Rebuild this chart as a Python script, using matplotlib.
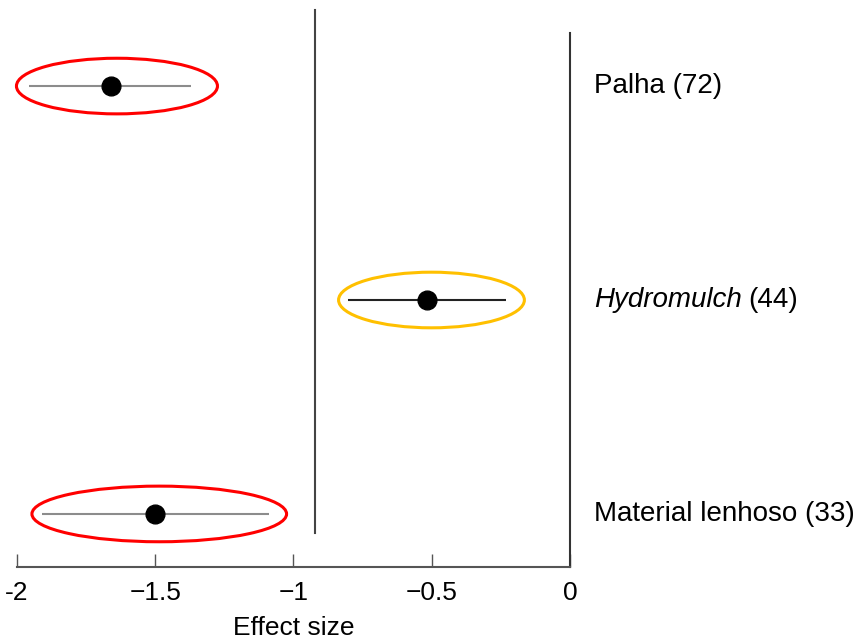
import matplotlib
matplotlib.use("Agg")
import matplotlib.pyplot as plt
from matplotlib.patches import Ellipse

plt.rcParams['font.family'] = ['Liberation Sans', 'DejaVu Sans']

# Data (top to bottom in the chart)
categories = ["Palha", "Hydromulch", "Material lenhoso"]
n_studies = [72, 44, 33]
effect = [-1.660, -0.517, -1.501]
ci_low = [-1.957, -0.803, -1.910]
ci_high = [-1.370, -0.231, -1.089]
overall_effect = -0.922
tick_values = [-2, -1.5, -1, -0.5, 0]
tick_labels = ["-2", "\u22121.5", "\u22121", "\u22120.5", "0"]

# Styles
ellipse_colors = ["#FF0000", "#FFC000", "#FF0000"]
ci_colors = ["#8c8c8c", "#222222", "#8c8c8c"]
ellipse_shift = [0.025, 0.016, 0.014]
ellipse_pad = [0.14, 0.10, 0.10]
ellipse_height = 0.26
italic = [False, True, False]

fig = plt.figure(figsize=(8.62, 6.43), dpi=100)
W, H = 862, 643
ax = fig.add_axes([17 / W, 1 - 567 / H, (570 - 17) / W, (567 - 33) / H])

n = len(categories)
ypos = [n - 1 - i for i in range(n)]

for i in range(n):
    y = ypos[i]
    ax.plot([ci_low[i], ci_high[i]], [y, y], color=ci_colors[i], lw=1.5, zorder=2,
            solid_capstyle='butt')
    ax.plot(effect[i], y, 'o', color='black', ms=13.5, zorder=3)
    cx = (ci_low[i] + ci_high[i]) / 2 + ellipse_shift[i]
    w = (ci_high[i] - ci_low[i]) + ellipse_pad[i]
    ax.add_patch(Ellipse((cx, y), w, ellipse_height, fill=False,
                         edgecolor=ellipse_colors[i], lw=2.2, zorder=4, clip_on=False))
    if italic[i]:
        ax.text(1.043, y, categories[i], transform=ax.get_yaxis_transform(),
                fontsize=20, style='italic', va='center', ha='left')
    else:
        ax.text(1.043, y, f"{categories[i]} ({n_studies[i]})",
                transform=ax.get_yaxis_transform(), fontsize=20, va='center', ha='left')

# italic label part for Hydromulch: append count in normal style
hi = italic.index(True)
fig.canvas.draw()
for txt in ax.texts:
    if txt.get_text() == categories[hi]:
        bb = txt.get_window_extent()
        inv = ax.transAxes.inverted()
        x_end = inv.transform((bb.x1, 0))[0]
        ax.text(x_end + 0.012, ypos[hi], f"({n_studies[hi]})",
                transform=ax.get_yaxis_transform(), fontsize=20, va='center', ha='left')
        break

# Overall effect vertical line
ax.plot([overall_effect, overall_effect], [-0.09, 2.355], color='#444444', lw=1.5,
        clip_on=False, zorder=1)

ax.set_xlim(-2, 0)
ax.set_ylim(-0.248, 2.248)

ax.spines['left'].set_visible(False)
ax.spines['top'].set_visible(False)
ax.spines['right'].set_color('#333333')
ax.spines['right'].set_linewidth(1.5)
ax.spines['bottom'].set_color('#555555')
ax.spines['bottom'].set_linewidth(1.5)

ax.set_yticks([])
ax.set_xticks(tick_values)
ax.set_xticklabels(tick_labels)
ax.tick_params(axis='x', direction='in', length=9.5, width=1.0, color='#555555',
               labelsize=19, pad=10)
ax.set_xlabel("Effect size", fontsize=19, labelpad=8)

fig.savefig("out.png", dpi=100)
